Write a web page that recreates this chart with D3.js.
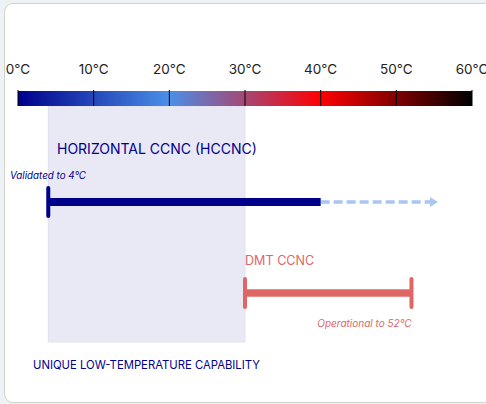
<!DOCTYPE html>
<html>
<head>
<meta charset="utf-8" />
<title>CCNC operating range</title>
<script src="https://cdn.jsdelivr.net/npm/d3@7"></script>
<style>
    html, body { margin:0; padding:0; background:#eef2f5; }
    body { font-family: Inter, "Noto Sans", sans-serif; }
    .card {
        position:absolute; left:4px; top:3px;
        width:500px; height:398px;
        background:#fff;
        border:1.5px solid #d3d3cb;
        border-radius:9px;
    }
    svg { position:absolute; left:0; top:0; }
</style>
</head>
<body>
<div class="card"></div>
<svg id="chart" width="486" height="404"></svg>
<script>
// temperature ticks
var tickValues = [0, 10, 20, 30, 40, 50, 60];
// gradient stops (temp, colour)
var gradTemps = [0, 20, 40, 60];
var gradColors = ["#00008b", "#4a8fe8", "#ff0000", "#000000"];
// ranges in °C
var lowTempZone = [4, 30];
var hccncRange = [4, 40];
var hccncExtension = [40, 55.5];
var dmtRange = [30, 52];

var svg = d3.select("#chart");
var x = d3.scaleLinear().domain([0, 60]).range([18, 472]);

var navy = "#00008b", coral = "#e06666";
var barTop = 91, barH = 15;

// gradient
var defs = svg.append("defs");
var grad = defs.append("linearGradient").attr("id", "tempGrad")
    .attr("x1", "0%").attr("x2", "100%");
gradTemps.forEach(function(t, i){
    grad.append("stop").attr("offset", (t / 60 * 100) + "%").attr("stop-color", gradColors[i]);
});

// shaded low-temp zone
svg.append("rect")
    .attr("x", x(lowTempZone[0])).attr("y", barTop + barH)
    .attr("width", x(lowTempZone[1]) - x(lowTempZone[0]))
    .attr("height", 342 - barTop - barH)
    .attr("fill", "#e9e9f5").attr("stroke", "#dcdcf0").attr("stroke-width", 0.8);

// colour bar
svg.append("rect")
    .attr("x", x(0)).attr("y", barTop)
    .attr("width", x(60) - x(0)).attr("height", barH)
    .attr("fill", "url(#tempGrad)");

svg.selectAll(".tick-line").data(tickValues).enter().append("line")
    .attr("x1", function(d){ return x(d); }).attr("x2", function(d){ return x(d); })
    .attr("y1", barTop - 1).attr("y2", barTop + barH)
    .attr("stroke", "#000").attr("stroke-width", 1);

svg.selectAll(".tick-label").data(tickValues).enter().append("text")
    .attr("x", function(d){ return x(d); }).attr("y", 74)
    .attr("text-anchor", "middle")
    .attr("font-size", "13.5px").attr("fill", "#222")
    .text(function(d){ return d + "°C"; });

// HCCNC
svg.append("text").attr("x", 57).attr("y", 154)
    .attr("font-size", "14px").attr("fill", navy)
    .text("HORIZONTAL CCNC (HCCNC)");
svg.append("text").attr("x", 10).attr("y", 179)
    .attr("font-size", "9.8px").attr("font-style", "italic").attr("fill", navy)
    .text("Validated to 4°C");

var hy = 202;
svg.append("line")
    .attr("x1", x(hccncExtension[0])).attr("x2", x(hccncExtension[1]) - 6)
    .attr("y1", hy).attr("y2", hy)
    .attr("stroke", "#a9c5f1").attr("stroke-width", 3.5)
    .attr("stroke-dasharray", "9,4");
svg.append("path")
    .attr("d", "M" + (x(hccncExtension[1]) - 8) + "," + (hy - 5) + " L" + x(hccncExtension[1]) + "," + hy + " L" + (x(hccncExtension[1]) - 8) + "," + (hy + 5) + "Z")
    .attr("fill", "#a9c5f1");
svg.append("line")
    .attr("x1", x(hccncRange[0])).attr("x2", x(hccncRange[1]))
    .attr("y1", hy).attr("y2", hy)
    .attr("stroke", navy).attr("stroke-width", 8);
svg.append("line")
    .attr("x1", x(hccncRange[0])).attr("x2", x(hccncRange[0]))
    .attr("y1", hy - 14).attr("y2", hy + 14)
    .attr("stroke", navy).attr("stroke-width", 4).attr("stroke-linecap", "round");

// DMT
svg.append("text").attr("x", x(dmtRange[0])).attr("y", 265)
    .attr("font-size", "12.6px").attr("fill", coral)
    .text("DMT CCNC");
var dy = 293;
svg.append("line")
    .attr("x1", x(dmtRange[0])).attr("x2", x(dmtRange[1]))
    .attr("y1", dy).attr("y2", dy)
    .attr("stroke", coral).attr("stroke-width", 7.5);
svg.selectAll(".dmt-cap").data(dmtRange).enter().append("line")
    .attr("x1", function(d){ return x(d); }).attr("x2", function(d){ return x(d); })
    .attr("y1", dy - 14).attr("y2", dy + 14)
    .attr("stroke", coral).attr("stroke-width", 4).attr("stroke-linecap", "round");
svg.append("text").attr("x", x(dmtRange[1])).attr("y", 327)
    .attr("text-anchor", "end")
    .attr("font-size", "10px").attr("font-style", "italic").attr("fill", coral)
    .text("Operational to 52°C");

// zone caption
svg.append("text").attr("x", 33).attr("y", 369)
    .attr("font-size", "11.3px").attr("fill", navy)
    .text("UNIQUE LOW-TEMPERATURE CAPABILITY");
</script>
</body>
</html>
